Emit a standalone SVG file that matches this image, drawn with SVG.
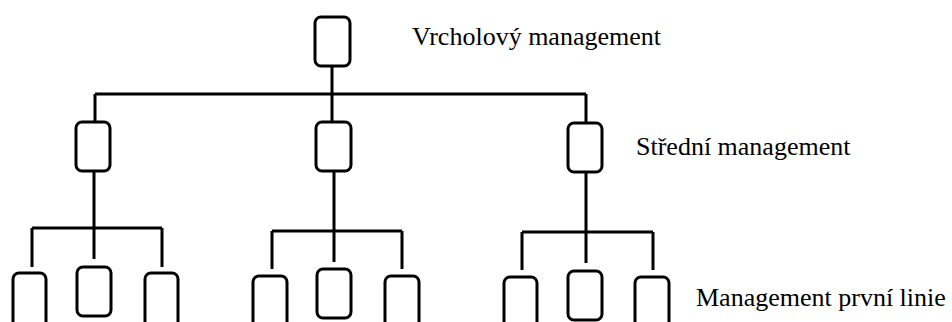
<svg xmlns="http://www.w3.org/2000/svg" width="952" height="322" viewBox="0 0 952 322">
<defs>
<style>
.box{fill:#fff;stroke:#000;stroke-width:3}
.ln{fill:none;stroke:#000;stroke-width:3}
text{font-family:"Liberation Serif",serif !important}
</style>
</defs>
<rect width="952" height="322" fill="#fff"/>
<g id="connectors">
<path class="ln" d="M332,66V94M95,94H586M95,94V122M332,94V122M586,94V122"/>
<path class="ln" d="M94,171V259M32,228H162M32,228V267M162,228V267"/>
<path class="ln" d="M334,171V262M272,231H402M272,231V269M402,231V269"/>
<path class="ln" d="M586,172V263M522,232H653M522,232V270M653,232V270"/>
</g>
<g id="top"><rect class="box" x="315" y="17" width="35" height="49" rx="6"/></g>
<g id="mid1"><rect class="box" x="76" y="122" width="34" height="49" rx="6"/></g>
<g id="mid2"><rect class="box" x="316" y="122" width="35" height="49" rx="6"/></g>
<g id="mid3"><rect class="box" x="568" y="123" width="34" height="49" rx="6"/></g>
<g id="b1"><rect class="box" x="13" y="273" width="33" height="60" rx="6"/></g>
<g id="b2"><rect class="box" x="77" y="267" width="34" height="49" rx="6"/></g>
<g id="b3"><rect class="box" x="145" y="273" width="33" height="60" rx="6"/></g>
<g id="b4"><rect class="box" x="253" y="276" width="34" height="60" rx="6"/></g>
<g id="b5"><rect class="box" x="317" y="269" width="34" height="49" rx="6"/></g>
<g id="b6"><rect class="box" x="385" y="276" width="34" height="60" rx="6"/></g>
<g id="b7"><rect class="box" x="504" y="277" width="33" height="60" rx="6"/></g>
<g id="b8"><rect class="box" x="568" y="271" width="34" height="49" rx="6"/></g>
<g id="b9"><rect class="box" x="635" y="277" width="34" height="60" rx="6"/></g>
<text x="412" y="45" font-family="Liberation Serif" font-size="26">Vrcholový management</text>
<text x="636" y="155" font-family="Liberation Serif" font-size="26">Střední management</text>
<text x="696" y="306" font-family="Liberation Serif" font-size="26">Management první linie</text>
</svg>
